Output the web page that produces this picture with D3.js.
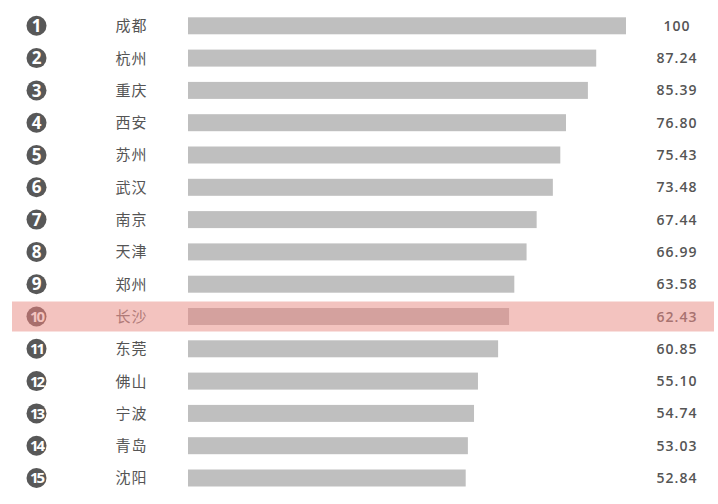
<!DOCTYPE html>
<html>
<head>
<meta charset="utf-8">
<script src="https://cdn.jsdelivr.net/npm/d3@7"></script>
<style>
  html, body { margin: 0; padding: 0; background: #ffffff; }
  svg { display: block; }
</style>
</head>
<body>
<svg id="chart" width="718" height="504"></svg>
<script>
// ---- data ----
const ranks = [1, 2, 3, 4, 5, 6, 7, 8, 9, 10, 11, 12, 13, 14, 15];
const cities = ["成都", "杭州", "重庆", "西安", "苏州", "武汉", "南京", "天津", "郑州", "长沙", "东莞", "佛山", "宁波", "青岛", "沈阳"];
const valueLabels = ["100", "87.24", "85.39", "76.80", "75.43", "73.48", "67.44", "66.99", "63.58", "62.43", "60.85", "55.10", "54.74", "53.03", "52.84"];
// bar lengths (relative to the top bar = 100)
const barValues = [100, 93.2, 91.3, 86.3, 85.0, 83.3, 79.6, 77.3, 74.5, 73.3, 70.8, 66.2, 65.3, 63.9, 63.4];
const highlightCity = "长沙";

// ---- layout ----
const svg = d3.select("#chart");

const y = d3.scaleBand()
  .domain(cities)
  .range([9.65, 494.15])
  .paddingInner(0)
  .paddingOuter(0);

const x = d3.scaleLinear().domain([0, 100]).range([188, 626]);

const barH = 17;
const rows = cities.map((c, i) => ({
  city: c, rank: ranks[i], label: valueLabels[i], bar: barValues[i],
  hi: c === highlightCity
}));

const g = svg.append("g");

// highlight band
g.selectAll("rect.hl").data(rows.filter(d => d.hi)).join("rect")
  .attr("class", "hl")
  .attr("x", 12).attr("width", 702)
  .attr("y", d => y(d.city) + y.bandwidth() / 2 - 15)
  .attr("height", 30)
  .attr("fill", "#f3c3bf");

// bars
g.selectAll("rect.bar").data(rows).join("rect")
  .attr("class", "bar")
  .attr("x", x(0))
  .attr("y", d => y(d.city) + y.bandwidth() / 2 - barH / 2)
  .attr("width", d => x(d.bar) - x(0))
  .attr("height", barH)
  .attr("fill", d => d.hi ? "#d4a19e" : "#bfbfbf");

// rank circles
const cx = 36.5;
g.selectAll("circle.rank").data(rows).join("circle")
  .attr("class", "rank")
  .attr("cx", cx)
  .attr("cy", d => y(d.city) + y.bandwidth() / 2)
  .attr("r", 10)
  .attr("fill", d => d.hi ? "#a86e6c" : "#585858");

g.selectAll("text.rank").data(rows).join("text")
  .attr("class", "rank")
  .attr("x", cx)
  .attr("y", d => y(d.city) + y.bandwidth() / 2)
  .attr("dy", "0.36em")
  .attr("text-anchor", "middle")
  .attr("font-family", "'Open Sans', 'DejaVu Sans', sans-serif")
  .attr("font-weight", 700)
  .attr("font-size", d => d.rank >= 10 ? 15 : 17)
  .attr("letter-spacing", d => d.rank >= 10 ? -2.2 : 0)
  .attr("fill", d => d.hi ? "#f3c3bf" : "#ffffff")
  .text(d => d.rank);

// city names
g.selectAll("text.city").data(rows).join("text")
  .attr("class", "city")
  .attr("x", 131.5)
  .attr("y", d => y(d.city) + y.bandwidth() / 2)
  .attr("dy", "0.36em")
  .attr("text-anchor", "middle")
  .attr("font-family", "'Noto Sans CJK SC', sans-serif")
  .attr("font-size", 15)
  .attr("letter-spacing", 1)
  .attr("fill", d => d.hi ? "#b07a78" : "#555555")
  .text(d => d.city);

// value labels
g.selectAll("text.val").data(rows).join("text")
  .attr("class", "val")
  .attr("x", 677)
  .attr("y", d => y(d.city) + y.bandwidth() / 2)
  .attr("dy", "0.36em")
  .attr("text-anchor", "middle")
  .attr("font-family", "'Open Sans', sans-serif")
  .attr("font-size", 14)
  .attr("font-weight", 600)
  .attr("letter-spacing", 1)
  .attr("fill", d => d.hi ? "#a87270" : "#555555")
  .text(d => d.label);
</script>
</body>
</html>
